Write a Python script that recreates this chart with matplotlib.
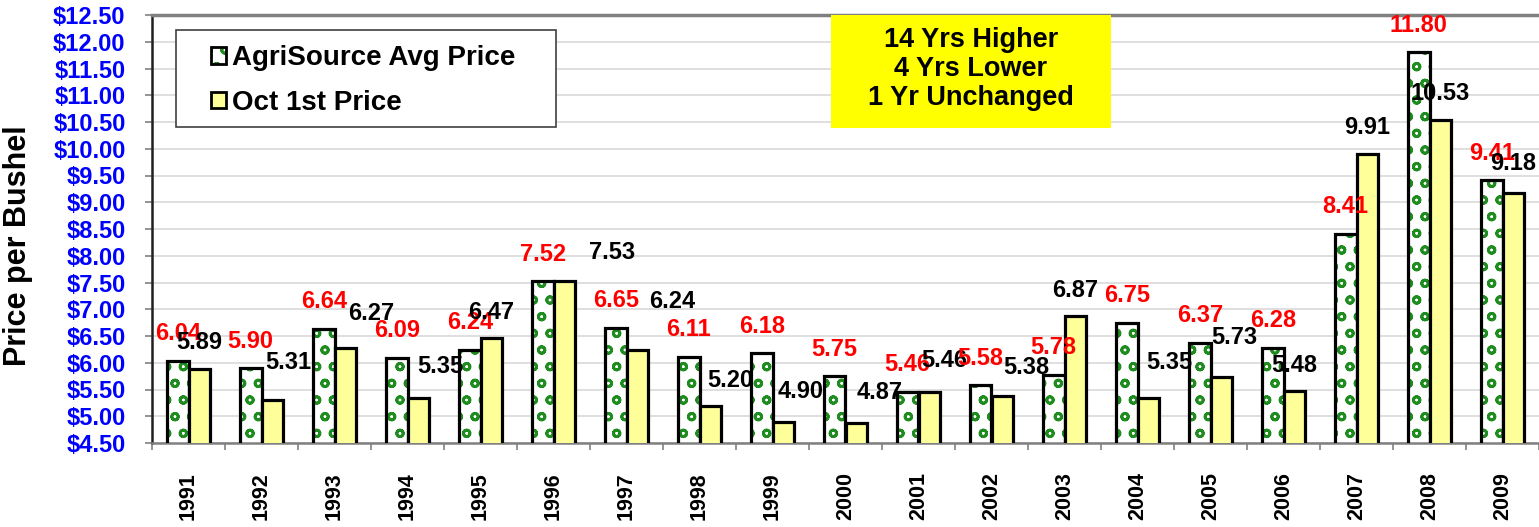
import numpy as np
import matplotlib
matplotlib.use("Agg")
import matplotlib.pyplot as plt
from matplotlib.patches import Patch, Rectangle
from matplotlib.ticker import FixedLocator, FuncFormatter

plt.rcParams['font.family'] = ['Liberation Sans', 'DejaVu Sans']
plt.rcParams['font.weight'] = 'bold'
plt.rcParams['hatch.linewidth'] = 2.0

years = ['1991', '1992', '1993', '1994', '1995', '1996', '1997', '1998', '1999', '2000',
         '2001', '2002', '2003', '2004', '2005', '2006', '2007', '2008', '2009']
agri_avg = [6.04, 5.90, 6.64, 6.09, 6.24, 7.52, 6.65, 6.11, 6.18, 5.75,
            5.46, 5.58, 5.78, 6.75, 6.37, 6.28, 8.41, 11.80, 9.41]
oct_first = [5.89, 5.31, 6.27, 5.35, 6.47, 7.53, 6.24, 5.20, 4.90, 4.87,
             5.46, 5.38, 6.87, 5.35, 5.73, 5.48, 9.91, 10.53, 9.18]
box_lines = ['14 Yrs Higher', '4 Yrs Lower', '1 Yr Unchanged']

# label nudges for the Oct 1st labels (pixels right, pixels above bar top)
oct_dx = [0, 16, 26, 22, 0, 48, 35, 20, 17, 23, 15, 24, 0, 21, 13, 0, 0, 0, 0]
oct_dy = [26, 37, 35, 31, 25, 28, 48, 25, 30, 31, 31, 28, 26, 35, 40, 25, 26, 27, 29]

fig = plt.figure(figsize=(15.39, 5.27), dpi=100)
ax = fig.add_axes([152 / 1539, 1 - 443 / 527, 1 - 152 / 1539, 428 / 527])

x = np.arange(len(years))
w = 0.295
green = '#1E8C1E'

# green hatched bars: hatch layer + black outline
ax.bar(x - w / 2, agri_avg, w, facecolor='white', edgecolor=green,
       hatch='o', linewidth=0, zorder=2)
ax.bar(x - w / 2, agri_avg, w, fill=False, edgecolor='black', linewidth=2.3, zorder=3)
ax.bar(x + w / 2, oct_first, w, facecolor='#FFFF99', edgecolor='black', linewidth=2.3, zorder=3)

for i in range(len(years)):
    ax.annotate(f'{agri_avg[i]:.2f}', (x[i] - w / 2, agri_avg[i]), xytext=(0, 27),
                textcoords='offset pixels', ha='center', va='center',
                color='red', fontsize=17, fontweight='bold', zorder=5)
    ax.annotate(f'{oct_first[i]:.2f}', (x[i] + w / 2, oct_first[i]), xytext=(oct_dx[i], oct_dy[i]),
                textcoords='offset pixels', ha='center', va='center',
                color='black', fontsize=17, fontweight='bold', zorder=5)

ax.set_xlim(-0.5, len(years) - 0.5)
ax.set_ylim(4.5, 12.5)
ax.set_yticks(np.arange(4.5, 12.51, 0.5))
ax.yaxis.set_major_formatter(FuncFormatter(lambda v, p: f'${v:.2f}'))
ax.tick_params(axis='y', colors='#808080', length=5, width=1.2, pad=14, labelsize=17,
               labelcolor='#0000FF')
for lab in ax.get_yticklabels():
    lab.set_fontweight('bold')

ax.set_xticks(x)
ax.set_xticklabels(years, rotation=90, fontsize=15.5, fontweight='bold')
ax.tick_params(axis='x', which='major', length=0, pad=21)
ax.xaxis.set_minor_locator(FixedLocator(np.arange(-0.5, len(years), 1.0)))
ax.tick_params(axis='x', which='minor', length=5, width=1.2, color='#808080', direction='out')

ax.grid(axis='y', color='#D9D9D9', linewidth=1.2, zorder=0)
ax.set_axisbelow(True)

ax.spines['top'].set_color('#808080')
ax.spines['top'].set_linewidth(2.5)
ax.spines['right'].set_visible(False)
ax.spines['left'].set_color('#202020')
ax.spines['left'].set_linewidth(1.8)
ax.spines['bottom'].set_color('#808080')
ax.spines['bottom'].set_linewidth(1.8)

ax.set_ylabel('Price per Bushel', fontsize=22, fontweight='bold')
ax.yaxis.set_label_coords(-0.086, 0.46)

# legend with separate frame
ax.add_patch(Rectangle(((176 - 152) / 1387, (443 - 127) / 428), 380 / 1387, 97 / 428,
                       transform=ax.transAxes, facecolor='white', edgecolor='#404040',
                       linewidth=1.2, zorder=6))
h_agri = (Patch(facecolor='white', edgecolor=green, hatch='o', linewidth=0),
          Patch(fill=False, edgecolor='black', linewidth=2))
h_oct = Patch(facecolor='#FFFF99', edgecolor='black', linewidth=2)
leg = ax.legend([h_agri, h_oct], ['AgriSource Avg Price', 'Oct 1st Price'],
                loc='upper left', bbox_to_anchor=((211 - 152) / 1387, (443 - 45) / 428),
                frameon=False, fontsize=20, handlelength=0.55, handleheight=0.55,
                handletextpad=0.22, labelspacing=0.68, borderaxespad=0, borderpad=0)
leg.set_zorder(7)
for t in leg.get_texts():
    t.set_fontweight('bold')

# yellow summary box
ax.add_patch(Rectangle(((831 - 152) / 1387, (443 - 128) / 428), 280 / 1387, 113 / 428,
                       transform=ax.transAxes, facecolor='#FFFF00', edgecolor='none',
                       zorder=6, clip_on=False))
ax.text((971 - 152) / 1387, (443 - 69) / 428, '\n'.join(box_lines), transform=ax.transAxes,
        ha='center', va='center', fontsize=19.5, fontweight='bold', linespacing=1.16, zorder=7)

fig.savefig('out.png', dpi=100)
